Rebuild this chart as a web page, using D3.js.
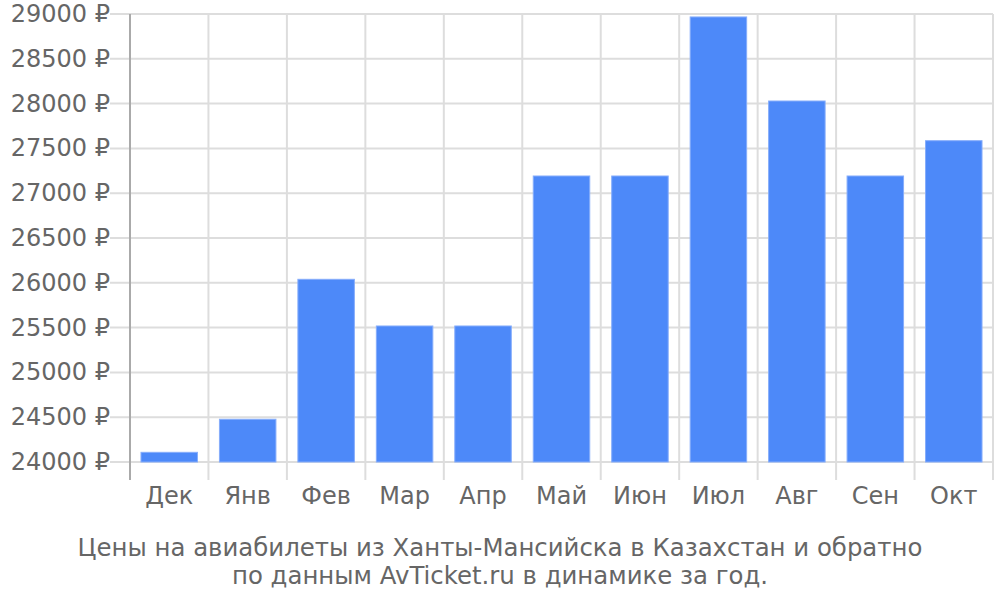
<html>
<head>
<meta http-equiv="Content-Type" content="text/html; charset=utf-8" />
<title>Цены на авиабилеты</title>
<script src="https://cdn.jsdelivr.net/npm/d3@7/dist/d3.min.js"></script>
<style type="text/css">
	body{
		margin: 0;
		background: #fff;
	}
	svg text{
		font-family: "DejaVu Sans", sans-serif;
		fill: #666;
	}
</style>
</head>
<body>
<div id="chart"></div>
<script type="text/javascript">
	// data
	var months = ["Дек","Янв","Фев","Мар","Апр","Май","Июн","Июл","Авг","Сен","Окт"];
	var prices = [24108, 24477, 26039, 25518, 25518, 27192, 27192, 28967, 28029, 27192, 27586];
	var yTicks = [24000,24500,25000,25500,26000,26500,27000,27500,28000,28500,29000];
	var caption = ["Цены на авиабилеты из Ханты-Мансийска в Казахстан и обратно",
		"по данным AvTicket.ru в динамике за год."];

	var W = 1000, H = 600;
	var plotL = 130, plotR = 993, plotT = 14, plotB = 462;

	var svg = d3.select('#chart')
		.append('svg')
		.attr('width', W)
		.attr('height', H);

	var x = d3.scaleBand()
		.domain(months)
		.range([plotL, plotR])
		.paddingInner(0.28)
		.paddingOuter(0.14);

	var y = d3.scaleLinear()
		.domain([24000, 29000])
		.range([plotB, plotT]);

	// horizontal grid + left ticks
	svg.selectAll('line.hgrid')
		.data(yTicks)
		.enter()
		.append('line')
		.attr('class', 'hgrid')
		.attr('x1', plotL - 20)
		.attr('x2', plotR)
		.attr('y1', function(d){ return y(d); })
		.attr('y2', function(d){ return y(d); })
		.attr('stroke', '#ddd')
		.attr('stroke-width', 2);

	// vertical grid at band edges, running down as ticks
	var edges = months.map(function(m){ return x(m) - x.step() * x.paddingOuter(); });
	edges.push(plotR);
	svg.selectAll('line.vgrid')
		.data(edges.slice(1))
		.enter()
		.append('line')
		.attr('class', 'vgrid')
		.attr('x1', function(d){ return d; })
		.attr('x2', function(d){ return d; })
		.attr('y1', plotT)
		.attr('y2', plotB + 18)
		.attr('stroke', '#ddd')
		.attr('stroke-width', 2);

	// left axis line
	svg.append('line')
		.attr('x1', plotL).attr('x2', plotL)
		.attr('y1', plotT).attr('y2', plotB + 18)
		.attr('stroke', '#aaa')
		.attr('stroke-width', 2);

	// bars
	svg.selectAll('rect')
		.data(prices)
		.enter()
		.append('rect')
		.attr('x', function(d, i){ return x(months[i]); })
		.attr('width', x.bandwidth())
		.attr('y', function(d){ return y(d); })
		.attr('height', function(d){ return y(24000) - y(d); })
		.attr('fill', '#4d89f9')
		.attr('stroke', '#86adfb')
		.attr('stroke-width', 1);

	// y labels
	svg.selectAll('text.ylab')
		.data(yTicks)
		.enter()
		.append('text')
		.attr('class', 'ylab')
		.attr('x', plotL - 20)
		.attr('y', function(d){ return y(d) + 8; })
		.attr('text-anchor', 'end')
		.style('font-size', '24px')
		.text(function(d){ return d + " ₽"; });

	// x labels
	svg.selectAll('text.xlab')
		.data(months)
		.enter()
		.append('text')
		.attr('class', 'xlab')
		.attr('x', function(d){ return x(d) + x.bandwidth() / 2; })
		.attr('y', 504)
		.attr('text-anchor', 'middle')
		.style('font-size', '24px')
		.text(function(d){ return d; });

	// caption
	svg.selectAll('text.cap')
		.data(caption)
		.enter()
		.append('text')
		.attr('class', 'cap')
		.attr('x', 500)
		.attr('y', function(d, i){ return 556 + i * 28; })
		.attr('text-anchor', 'middle')
		.style('font-size', '24.4px')
		.text(function(d){ return d; });
</script>
</body>
</html>
